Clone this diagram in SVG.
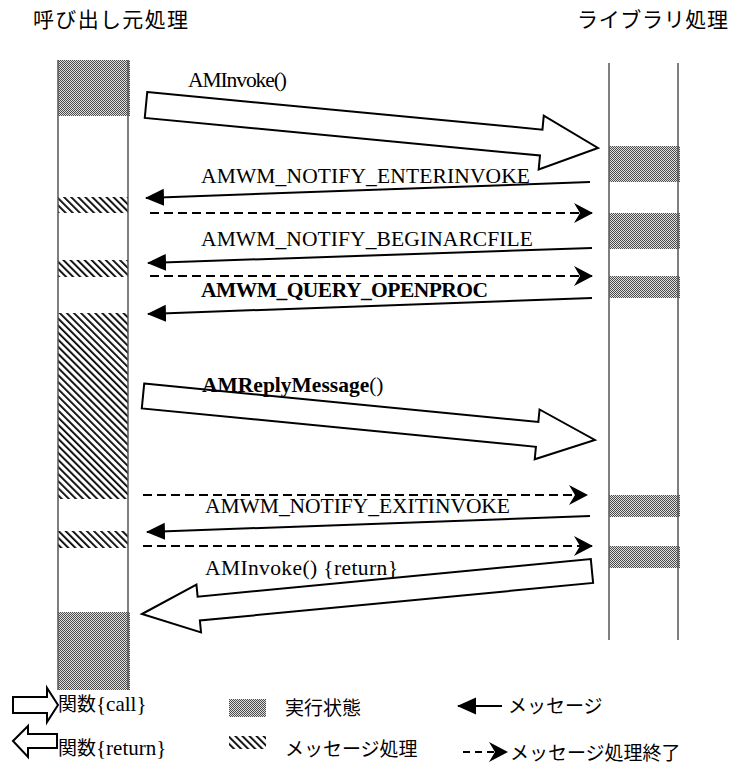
<svg xmlns="http://www.w3.org/2000/svg" width="734" height="774" viewBox="0 0 734 774">
<style>
.jp{font-family:"Noto Sans CJK JP","Noto Sans",sans-serif;fill:#000}
.lbl{font-family:"Liberation Serif","Times New Roman",serif;font-size:21.5px;fill:#000}
.ser{font-family:"Liberation Serif","Times New Roman",serif;font-size:21px}
.b{font-weight:bold}
.life{stroke:#555;stroke-width:1.5;fill:none}
.msg{stroke:#000;stroke-width:2;fill:none}
.dash{stroke:#000;stroke-width:2;fill:none;stroke-dasharray:9 5}
.big{stroke:#000;stroke-width:2;fill:#fff;stroke-linejoin:miter}
.exec{fill:url(#exec)}
.hatch{fill:url(#hatch)}
</style>
<defs>
<pattern id="exec" width="2" height="2" patternUnits="userSpaceOnUse">
<rect width="2" height="2" fill="#e0e0e0"/>
<rect width="1" height="1" fill="#4a4a4a"/>
<rect x="1" y="1" width="1" height="1" fill="#4a4a4a"/>
</pattern>
<pattern id="hatch" width="5" height="5" patternUnits="userSpaceOnUse" patternTransform="rotate(-45)">
<rect width="5" height="5" fill="#fff"/>
<rect width="1.8" height="5" fill="#000"/>
</pattern>
<marker id="solid" markerUnits="userSpaceOnUse" markerWidth="20" markerHeight="18" refX="18" refY="8.5" orient="auto">
<path d="M0,0 L19,8.5 L0,17 z" fill="#000"/>
</marker>
<marker id="stealth" markerUnits="userSpaceOnUse" markerWidth="20" markerHeight="20" refX="18" refY="10" orient="auto">
<path d="M0,0 L19,10 L0,20 L6,10 z" fill="#000"/>
</marker>
</defs>
<rect width="734" height="774" fill="#fff"/>

<g id="caller">
<text class="jp" x="33" y="27" font-size="21" textLength="155">呼び出し元処理</text>
<rect class="exec" x="58" y="60" width="72" height="56"/>
<rect class="hatch" x="58" y="197" width="70" height="16"/>
<rect class="hatch" x="58" y="260" width="70" height="17"/>
<rect class="hatch" x="58" y="313" width="70" height="186"/>
<rect class="hatch" x="58" y="531" width="70" height="17"/>
<rect class="exec" x="58" y="612" width="72" height="78"/>
<line class="life" x1="58" y1="60" x2="58" y2="690"/>
<line class="life" x1="128" y1="60" x2="128" y2="690"/>
</g>

<g id="library">
<text class="jp" x="577" y="27" font-size="21" textLength="151">ライブラリ処理</text>
<rect class="exec" x="609" y="146" width="71" height="36"/>
<rect class="exec" x="609" y="213" width="71" height="36"/>
<rect class="exec" x="609" y="276" width="71" height="22"/>
<rect class="exec" x="609" y="495" width="71" height="22"/>
<rect class="exec" x="609" y="546" width="71" height="22"/>
<line class="life" x1="609" y1="63" x2="609" y2="640"/>
<line class="life" x1="678" y1="63" x2="678" y2="640"/>
</g>

<g id="connectors">
<polygon class="big" transform="translate(146,105) rotate(5.43)" points="0,-13 397,-13 397,-27 454,0 397,27 397,13 0,13"/>
<text class="lbl" x="188" y="87" textLength="99">AMInvoke()</text>

<line class="msg" x1="590" y1="182" x2="146" y2="198" marker-end="url(#solid)"/>
<text class="lbl" x="201" y="183" textLength="329">AMWM_NOTIFY_ENTERINVOKE</text>
<line class="dash" x1="150" y1="213" x2="592" y2="213" marker-end="url(#stealth)"/>

<line class="msg" x1="592" y1="248" x2="148" y2="263" marker-end="url(#solid)"/>
<text class="lbl" x="201" y="246" textLength="332">AMWM_NOTIFY_BEGINARCFILE</text>
<line class="dash" x1="150" y1="276" x2="592" y2="276" marker-end="url(#stealth)"/>

<line class="msg" x1="592" y1="298" x2="148" y2="314" marker-end="url(#solid)"/>
<text class="lbl b" x="201" y="297" textLength="287">AMWM_QUERY_OPENPROC</text>

<polygon class="big" transform="translate(143,396) rotate(5.56)" points="0,-12.5 396,-12.5 396,-25 454,0 396,25 396,12.5 0,12.5"/>
<text class="lbl" x="202" y="392"><tspan class="b">AMReplyMessage</tspan>()</text>

<line class="dash" x1="143" y1="495" x2="587" y2="495" marker-end="url(#stealth)"/>
<line class="msg" x1="590" y1="516" x2="147" y2="532" marker-end="url(#solid)"/>
<text class="lbl" x="205" y="513" textLength="305">AMWM_NOTIFY_EXITINVOKE</text>
<line class="dash" x1="143" y1="546" x2="592" y2="546" marker-end="url(#stealth)"/>

<polygon class="big" transform="translate(142,614) rotate(-5.46)" points="0,0 57,-24 57,-12 452,-12 452,12 57,12 57,24"/>
<text class="lbl" x="205" y="575" textLength="193">AMInvoke() {return}</text>
</g>

<g id="legend">
<polygon class="big" points="13,697 47,697 47,688 58,705 47,722 47,713 13,713"/>
<text class="jp" x="58" y="711" font-size="19">関数<tspan class="ser">{call}</tspan></text>
<polygon class="big" points="13,741 28,726 28,734 57,734 57,748 28,748 28,757"/>
<text class="jp" x="58" y="755" font-size="19">関数<tspan class="ser">{return}</tspan></text>
<rect class="exec" x="229" y="699" width="37" height="18"/>
<text class="jp" x="285" y="715" font-size="19">実行状態</text>
<rect class="hatch" x="229" y="736" width="37" height="13"/>
<text class="jp" x="285" y="756" font-size="19">メッセージ処理</text>
<line class="msg" x1="502" y1="706" x2="458" y2="706" marker-end="url(#solid)"/>
<text class="jp" x="508" y="713" font-size="19">メッセージ</text>
<line class="dash" x1="463" y1="752" x2="507" y2="752" style="stroke-dasharray:7 5" marker-end="url(#stealth)"/>
<text class="jp" x="510" y="760" font-size="19">メッセージ処理終了</text>
</g>
</svg>
